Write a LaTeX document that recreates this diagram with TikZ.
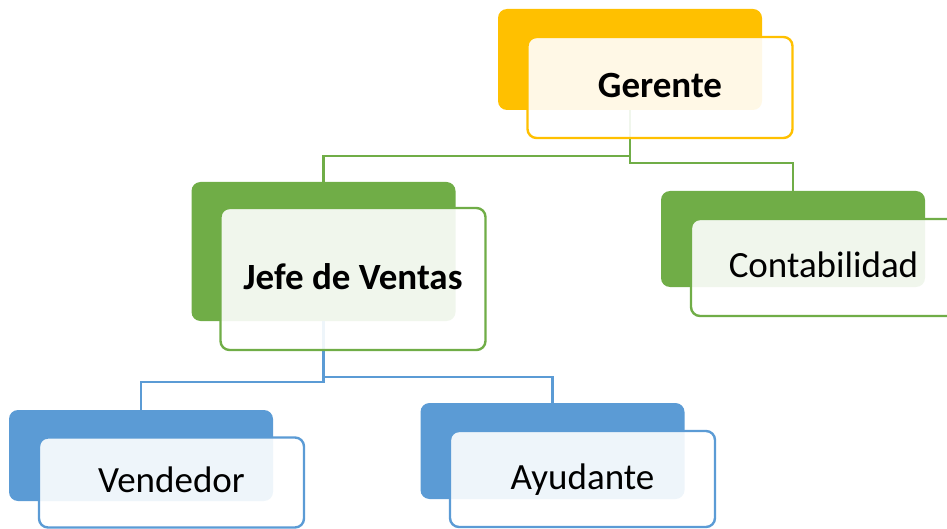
\documentclass[tikz,border=0pt]{standalone}
\usepackage{fontspec}
\setmainfont{Carlito}
\definecolor{gold}{HTML}{FFC000}
\definecolor{leaf}{HTML}{70AD47}
\definecolor{sky}{HTML}{5B9BD5}

\begin{document}
\begin{tikzpicture}[x=1pt, y=-1pt,
  backbox/.style={fill=#1, rounded corners=9pt, minimum width=264pt, inner sep=0pt},
  frontbox/.style={draw=#1, line width=2.4pt, fill=white, fill opacity=0.9, text opacity=1,
    rounded corners=9pt, minimum width=265pt, inner sep=0pt,
    text height=20pt, text depth=0pt, font=\fontsize{37}{44}\selectfont},
  branch/.style={draw=#1, line width=2.4pt}]
\path [use as bounding box, clip] (0,0) rectangle (947,529);

\node (G) at (630,59.5) [backbox=gold, minimum height=101pt]{};
\node (J) at (323.5,251.5) [backbox=leaf, minimum height=139pt]{};
\node (C) at (793,239) [backbox=leaf, minimum height=96pt]{};
\node (V) at (141,455.5) [backbox=sky, minimum height=91pt]{};
\node (A) at (552.5,451) [backbox=sky, minimum height=96pt]{};

\draw [branch=leaf] (G.south) -- ++(0,46) -| (J.north);
\draw [branch=leaf] (G.south) -- ++(0,53) -| (C.north);
\draw [branch=sky] (J.south) -- ++(0,61) -| (V.north);
\draw [branch=sky] (J.south) -- ++(0,56) -| (A.north);

\node (G-1) at (660,87.5) [frontbox=gold, minimum height=101pt]{\textbf{Gerente}};
\node (J-1) at (353,279) [frontbox=leaf, minimum height=142pt]{\textbf{Jefe de Ventas}};
\node (C-1) at (823.5,267.5) [frontbox=leaf, minimum height=97pt]{Contabilidad};
\node (V-1) at (171.5,482.5) [frontbox=sky, minimum height=90pt]{Vendedor};
\node (A-1) at (582.5,479) [frontbox=sky, minimum height=96pt]{Ayudante};

\end{tikzpicture}
\end{document}
